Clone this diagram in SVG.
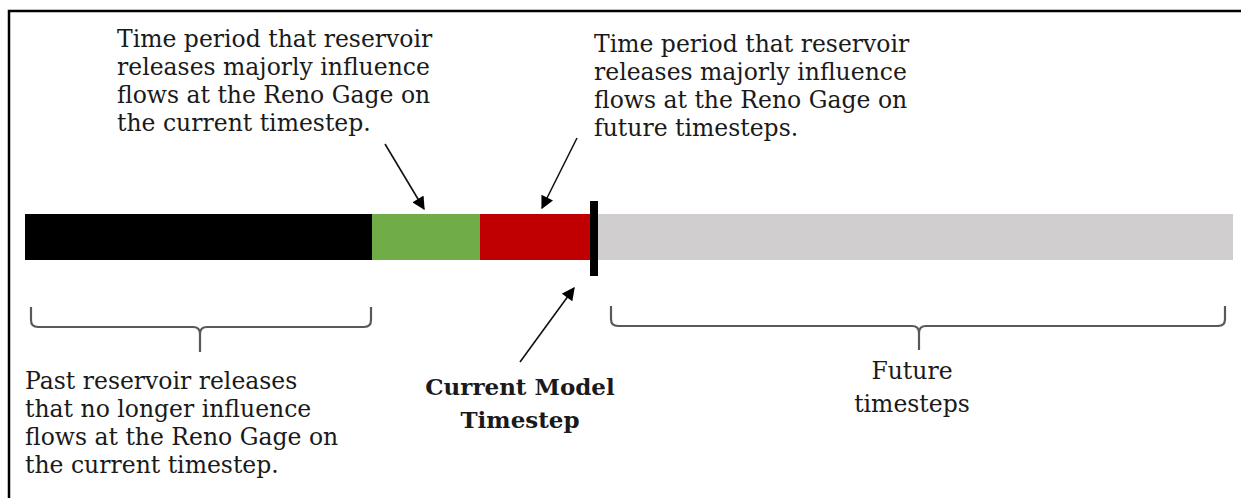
<svg xmlns="http://www.w3.org/2000/svg" width="1241" height="498" viewBox="0 0 1241 498">
  <style>
    .t { font-family: "DejaVu Serif", "Liberation Serif", serif; font-size: 23.5px; fill: #1a1a1a; }
    .b { font-weight: bold; font-size: 23px; }
    .brace { fill: none; stroke: #595959; stroke-width: 2.2; }
    .arr { stroke: #111; stroke-width: 1.6; fill: none; marker-end: url(#ah); }
  </style>
  <defs>
    <marker id="ah" viewBox="0 0 10 10" refX="9" refY="5" markerWidth="14" markerHeight="13" markerUnits="userSpaceOnUse" orient="auto">
      <path d="M0,0 L10,5 L0,10 z" fill="#000"/>
    </marker>
  </defs>
  <rect width="1241" height="498" fill="#fff"/>
  <path d="M9,498 V11 H1241" fill="none" stroke="#000" stroke-width="2.5"/>

  <g id="timeline">
    <rect x="25" y="214" width="348" height="46" fill="#000"/>
    <rect x="372" y="214" width="108" height="46" fill="#70ad47"/>
    <rect x="480" y="214" width="111" height="46" fill="#c00000"/>
    <rect x="597" y="214" width="636" height="46" fill="#d0cece"/>
    <rect x="590" y="201" width="8" height="75" fill="#000"/>
  </g>

  <g id="brace-past">
    <path class="brace" d="M31,307 V320 Q31,327 38,327 H193 Q200,327 200,334 V352 M200,334 Q200,327 207,327 H364 Q371,327 371,320 V307"/>
  </g>
  <g id="brace-future">
    <path class="brace" d="M611,306 V319 Q611,326 618,326 H912 Q919,326 919,333 V350 M919,333 Q919,326 926,326 H1218 Q1225,326 1225,319 V306"/>
  </g>

  <g id="connectors">
    <path class="arr" d="M385,144 L424,209"/>
    <path class="arr" d="M577,138 L542,208"/>
    <path class="arr" d="M520,362 L574,288"/>
  </g>

  <g id="label-current-influence">
    <text class="t" x="117" y="47">Time period that reservoir</text>
    <text class="t" x="117" y="75">releases majorly influence</text>
    <text class="t" x="117" y="103">flows at the Reno Gage on</text>
    <text class="t" x="117" y="131">the current timestep.</text>
  </g>
  <g id="label-future-influence">
    <text class="t" x="594" y="52">Time period that reservoir</text>
    <text class="t" x="594" y="80">releases majorly influence</text>
    <text class="t" x="594" y="108">flows at the Reno Gage on</text>
    <text class="t" x="594" y="136">future timesteps.</text>
  </g>
  <g id="label-past">
    <text class="t" x="25" y="389">Past reservoir releases</text>
    <text class="t" x="25" y="417">that no longer influence</text>
    <text class="t" x="25" y="445">flows at the Reno Gage on</text>
    <text class="t" x="25" y="473">the current timestep.</text>
  </g>
  <g id="label-current-timestep">
    <text class="t b" x="520" y="395" text-anchor="middle">Current Model</text>
    <text class="t b" x="520" y="428" text-anchor="middle">Timestep</text>
  </g>
  <g id="label-future">
    <text class="t" x="912" y="379" text-anchor="middle">Future</text>
    <text class="t" x="912" y="412" text-anchor="middle">timesteps</text>
  </g>
</svg>
